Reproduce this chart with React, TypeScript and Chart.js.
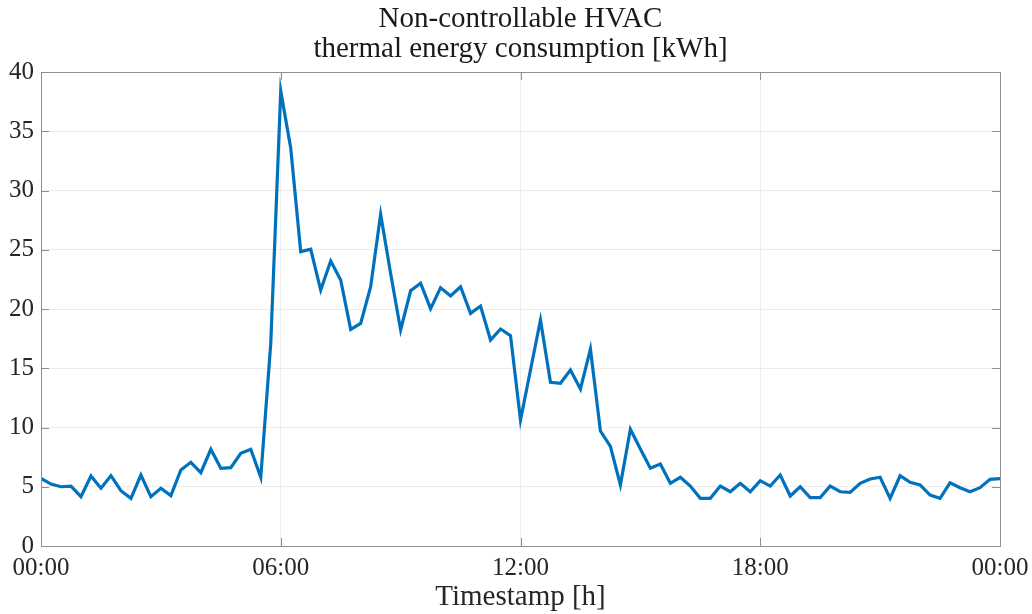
import React, { useEffect, useRef } from "react";
import { Chart, registerables } from "chart.js";

Chart.register(...registerables);

const titleLines = ["Non-controllable HVAC", "thermal energy consumption [kWh]"];
const xAxisTitle = "Timestamp [h]";
const xTickLabels = ["00:00", "06:00", "12:00", "18:00", "00:00"];
const yTicks = [0, 5, 10, 15, 20, 25, 30, 35, 40];
const stepHours = 0.25;
const consumption = [
  5.71, 5.23, 5.0, 5.06, 4.16, 5.91, 4.87, 5.93, 4.67, 4.02, 5.99, 4.16, 4.87, 4.25, 6.41, 7.06,
  6.19, 8.16, 6.56, 6.61, 7.82, 8.16, 5.8, 17.1, 38.4, 33.56, 24.84, 25.04, 21.6, 24.05, 22.45, 18.28,
  18.79, 21.88, 27.99, 23.0, 18.23, 21.54, 22.17, 20.03, 21.8, 21.1, 21.88, 19.63, 20.25, 17.38, 18.31, 17.75,
  10.63, 14.85, 19.07, 13.81, 13.73, 14.85, 13.25, 16.62, 9.7, 8.4, 5.15, 9.85, 8.19, 6.56, 6.92, 5.29,
  5.8, 5.06, 4.02, 4.02, 5.06, 4.58, 5.29, 4.58, 5.51, 5.06, 5.99, 4.22, 5.0, 4.08, 4.08, 5.06,
  4.58, 4.53, 5.29, 5.65, 5.8, 4.02, 5.93, 5.37, 5.15, 4.3, 4.02, 5.34, 4.92, 4.58, 4.92, 5.63, 5.68,
];

const FONT = "'Liberation Serif', 'Times New Roman', serif";
const AXIS_COLOR = "#8f8f8f";
const TEXT_COLOR = "#262626";

const matlabPlugin = {
  id: "matlabDecor",
  afterDatasetsDraw(chart: any) {
    const { ctx, chartArea } = chart;
    const { left, right, top, bottom } = chartArea;
    const xs = chart.scales.x;
    const ys = chart.scales.y;
    ctx.save();
    ctx.strokeStyle = AXIS_COLOR;
    ctx.lineWidth = 1;
    const tl = 8;
    ctx.beginPath();
    yTicks.forEach((v) => {
      const y = Math.round(ys.getPixelForValue(v)) + 0.5;
      ctx.moveTo(left, y);
      ctx.lineTo(left + tl, y);
      ctx.moveTo(right, y);
      ctx.lineTo(right - tl, y);
    });
    [0, 6, 12, 18, 24].forEach((v) => {
      const x = Math.round(xs.getPixelForValue(v)) + 0.5;
      ctx.moveTo(x, bottom);
      ctx.lineTo(x, bottom - tl);
      ctx.moveTo(x, top);
      ctx.lineTo(x, top + tl);
    });
    ctx.stroke();
    ctx.strokeRect(Math.round(left) + 0.5, Math.round(top) + 0.5, Math.round(right - left), Math.round(bottom - top));
    ctx.restore();
  },
  afterDraw(chart: any) {
    const { ctx, chartArea } = chart;
    const cx = (chartArea.left + chartArea.right) / 2;
    ctx.save();
    ctx.fillStyle = "#1a1a1a";
    ctx.textAlign = "center";
    ctx.textBaseline = "middle";
    ctx.font = `29px ${FONT}`;
    ctx.fillText(titleLines[0], cx, 19);
    ctx.fillText(titleLines[1], cx, 49);
    ctx.fillStyle = TEXT_COLOR;
    ctx.fillText(xAxisTitle, cx, 597);
    ctx.restore();
  },
};

export default function App() {
  const ref = useRef<HTMLCanvasElement | null>(null);
  useEffect(() => {
    document.body.style.margin = "0";
    const canvas = ref.current;
    if (!canvas) return;
    const chart = new Chart(canvas, {
      type: "line",
      data: {
        datasets: [
          {
            data: consumption.map((v, i) => ({ x: i * stepHours, y: v })),
            borderColor: "#0072BD",
            borderWidth: 3.2,
            pointRadius: 0,
            tension: 0,
            fill: false,
          },
        ],
      },
      options: {
        animation: false,
        responsive: false,
        devicePixelRatio: 1,
        layout: { autoPadding: false, padding: { top: 72, right: 32, left: 0, bottom: 0 } },
        plugins: {
          legend: { display: false },
          title: { display: false },
          tooltip: { enabled: false },
        },
        scales: {
          x: {
            type: "linear",
            min: 0,
            max: 24,
            afterFit: (s: any) => {
              s.height = 68;
              s.paddingLeft = 0;
              s.paddingRight = 0;
            },
            afterBuildTicks: (s: any) => {
              s.ticks = [0, 6, 12, 18, 24].map((v) => ({ value: v }));
            },
            border: { display: false },
            grid: { color: "#ececec", lineWidth: 1, drawTicks: false },
            ticks: {
              padding: 7,
              maxRotation: 0,
              autoSkip: false,
              color: TEXT_COLOR,
              font: { family: FONT, size: 25 },
              callback: (v: any) => xTickLabels[Math.round(Number(v) / 6)],
            },
          },
          y: {
            min: 0,
            max: 40,
            afterFit: (s: any) => {
              s.width = 41;
              s.paddingTop = 0;
              s.paddingBottom = 0;
            },
            border: { display: false },
            grid: { color: "#ececec", lineWidth: 1, drawTicks: false },
            ticks: {
              stepSize: 5,
              padding: 7,
              color: TEXT_COLOR,
              font: { family: FONT, size: 25 },
            },
          },
        },
      },
      plugins: [matlabPlugin],
    });
    return () => chart.destroy();
  }, []);
  return (
    <div style={{ position: "absolute", left: 0, top: 0, width: 1032, height: 614, background: "#fff" }}>
      <canvas ref={ref} width={1032} height={614} />
    </div>
  );
}
